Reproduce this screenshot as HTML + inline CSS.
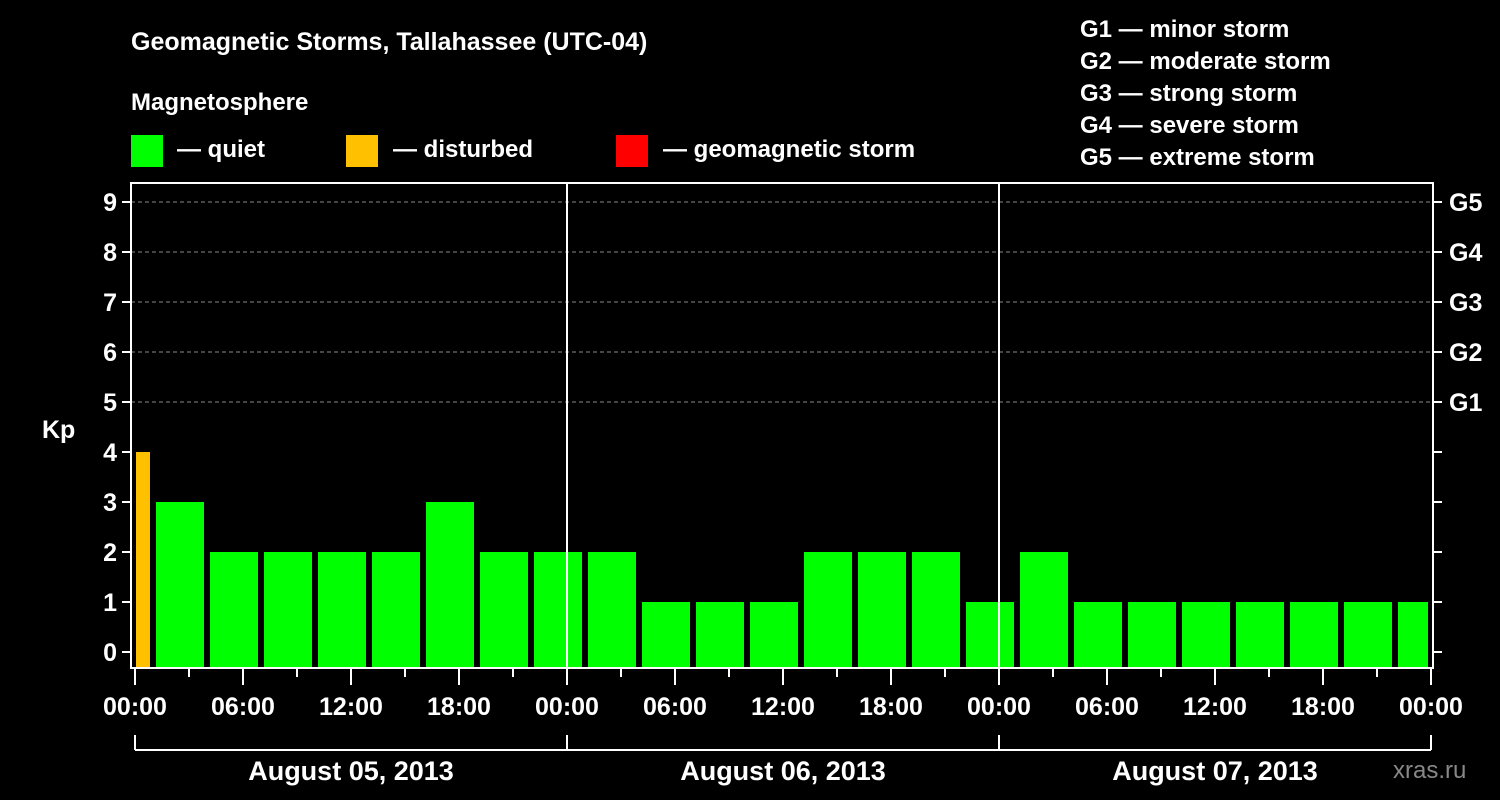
<!DOCTYPE html>
<html><head><meta charset="utf-8"><style>
html,body{margin:0;padding:0;background:#000;}
svg{display:block;font-family:"Liberation Sans",Arial,sans-serif;font-weight:bold;}
</style></head><body>
<svg id="chart" width="1500" height="800" viewBox="0 0 1500 800">
<rect width="1500" height="800" fill="#000"/>
<text x="131" y="50" fill="#fff" font-size="25">Geomagnetic Storms, Tallahassee (UTC-04)</text>
<text x="131" y="110" fill="#fff" font-size="24">Magnetosphere</text>
<g><rect x="131" y="135" width="32" height="32" fill="#00ff00"/><text x="177" y="157" fill="#fff" font-size="24">— quiet</text></g>
<g><rect x="346" y="135" width="32" height="32" fill="#ffc000"/><text x="393" y="157" fill="#fff" font-size="24">— disturbed</text></g>
<g><rect x="616" y="135" width="32" height="32" fill="#ff0000"/><text x="663" y="157" fill="#fff" font-size="24">— geomagnetic storm</text></g>
<g fill="#fff" font-size="24">
<text x="1080" y="37">G1 — minor storm</text>
<text x="1080" y="69">G2 — moderate storm</text>
<text x="1080" y="101">G3 — strong storm</text>
<text x="1080" y="133">G4 — severe storm</text>
<text x="1080" y="165">G5 — extreme storm</text>
</g>
<text x="42" y="438" fill="#fff" font-size="25">Kp</text>
<text x="1393" y="778" fill="#888" font-size="24" font-weight="normal">xras.ru</text>
<g id="grid"></g><g id="bars"></g><g id="axes"></g>
</svg>
<script>
const kpValues=[4,3,2,2,2,2,3,2,2,2,1,1,1,2,2,2,1,2,1,1,1,1,1,1,1];
const yTicks=[0,1,2,3,4,5,6,7,8,9];
const gLabels=["G1","G2","G3","G4","G5"];
const xTickLabels=["00:00","06:00","12:00","18:00","00:00","06:00","12:00","18:00","00:00","06:00","12:00","18:00","00:00"];
const dayLabels=["August 05, 2013","August 06, 2013","August 07, 2013"];
const firstBarStartHour=-1; // local hour offset of first 3h interval start (UTC 00 = 20:00 local; bar spans -1..2)
const NS="http://www.w3.org/2000/svg";
const L=131,R=1433,T=183,B=668,X0=135,PXH=18;
const xs=h=>X0+h*PXH, ys=v=>652-v*50;
function mk(t,a,p){const e=document.createElementNS(NS,t);for(const k in a)e.setAttribute(k,a[k]);p.appendChild(e);return e;}
const grid=document.getElementById('grid'),bars=document.getElementById('bars'),axes=document.getElementById('axes');
for(let v=5;v<=9;v++){const l=mk('line',{x1:L,x2:R,y1:ys(v),y2:ys(v),stroke:'#888','stroke-dasharray':'4,3','stroke-width':1},grid);

}
kpValues.forEach((v,i)=>{
 const h0=firstBarStartHour+3*i-1;
 let x1=xs(h0)+3,x2=xs(h0+3)-3;
 if(i===0){x1=xs(h0)+3;}
 x1=Math.max(x1,L+5);x2=Math.min(x2,R-5);
 if(x2<=x1)return;
 const col=v>=5?'#ff0000':(v>=4?'#ffc000':'#00ff00');
 const r=mk('rect',{x:x1,y:ys(v),width:x2-x1,height:B-ys(v),fill:col},bars);
 
 
});
for(let d=1;d<3;d++){const l=mk('line',{x1:xs(24*d),x2:xs(24*d),y1:T,y2:B,stroke:'#fff','stroke-width':2},axes);

}
const frame=mk('rect',{x:L,y:T,width:R-L,height:B-T,fill:'none',stroke:'#fff','stroke-width':2},axes);


yTicks.forEach(v=>{
 mk('line',{x1:L-9,x2:L,y1:ys(v),y2:ys(v),stroke:'#fff','stroke-width':2},axes);
 mk('line',{x1:R,x2:R+9,y1:ys(v),y2:ys(v),stroke:'#fff','stroke-width':2},axes);
 const t=mk('text',{x:L-14,y:ys(v)+9,fill:'#fff','font-size':25,'text-anchor':'end'},axes);t.textContent=v;
 
 
});
gLabels.forEach((g,i)=>{const t=mk('text',{x:R+16,y:ys(5+i)+9,fill:'#fff','font-size':25},axes);t.textContent=g;

});
for(let h=0;h<=72;h+=3){const major=h%6===0;mk('line',{x1:xs(h),x2:xs(h),y1:B,y2:B+(major?17:9),stroke:'#fff','stroke-width':2},axes);}
xTickLabels.forEach((s,i)=>{const t=mk('text',{x:xs(6*i),y:715,fill:'#fff','font-size':25,'text-anchor':'middle'},axes);t.textContent=s;

});
mk('line',{x1:xs(0),x2:xs(72),y1:750,y2:750,stroke:'#fff','stroke-width':2},axes);
for(let d=0;d<=3;d++)mk('line',{x1:xs(24*d),x2:xs(24*d),y1:735,y2:750,stroke:'#fff','stroke-width':2},axes);
dayLabels.forEach((s,i)=>{const t=mk('text',{x:xs(24*i+12),y:780,fill:'#fff','font-size':27,'text-anchor':'middle'},axes);t.textContent=s;

});
</script>
</body></html>
